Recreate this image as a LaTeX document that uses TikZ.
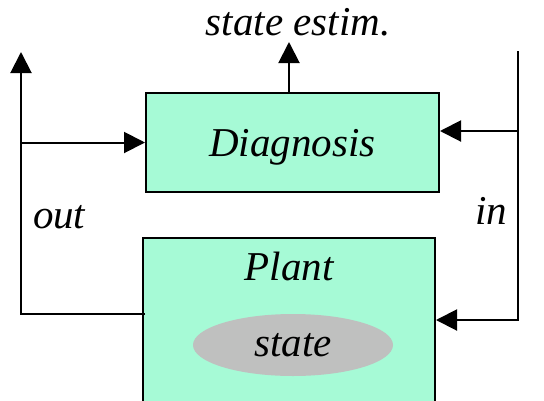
\documentclass[tikz,border=0pt]{standalone}
\usepackage{fontspec}
\setmainfont{Liberation Serif}[ItalicFont={Liberation Serif Italic}]
\usetikzlibrary{arrows.meta,shapes.geometric}

\definecolor{mint}{HTML}{A6FAD6}
\definecolor{stategray}{HTML}{BFC0BF}

\begin{document}
\begin{tikzpicture}[x=1pt, y=-1pt, line width=2pt,
        >={Triangle[length=21pt,width=21pt]},
        box/.style={rectangle, draw, fill=mint, inner sep=0pt},
        lbl/.style={font=\fontsize{41}{46}\selectfont\itshape, inner sep=0pt}]
        \clip (0,0) rectangle (544,400);

        \node[box, lbl, text depth=0pt, minimum width=293pt, minimum height=99pt] (diag) at (292.5,142.5) {Diagnosis};
        \node[box, minimum width=292pt, minimum height=180pt] (plant) at (289,328) {};
        \node[lbl, anchor=base] (plantlbl) at (289,280) {Plant};
        \node[ellipse, fill=stategray, lbl, text depth=0pt, minimum width=200pt, minimum height=62pt] (st) at (293,345) {state};

        \node[lbl, anchor=base] (estlbl) at (298,35) {state estim.};
        \node[lbl, anchor=base west] (outlbl) at (32,228) {out};
        \node[lbl, anchor=base east] (inlbl) at (508,224) {in};

        \coordinate (outtip) at (21,52);
        \coordinate (outcorner) at (21,314);
        \coordinate (esttip) at (289,42);
        \coordinate (intop) at (518,51);
        \coordinate (inmid) at (518,131);
        \coordinate (inbot) at (518,320);

        \draw[->] ([xshift=3pt]plant.west |- outcorner) -- (outcorner) -- (outtip);
        \draw[->] (diag.west -| outcorner) -- (diag.west);
        \draw[->] (diag.north -| esttip) -- (esttip);
        \draw[->] (inmid) -- (diag.east |- inmid);
        \draw[->] (intop) -- (inbot) -- (plant.east |- inbot);
    \end{tikzpicture}
\end{document}
